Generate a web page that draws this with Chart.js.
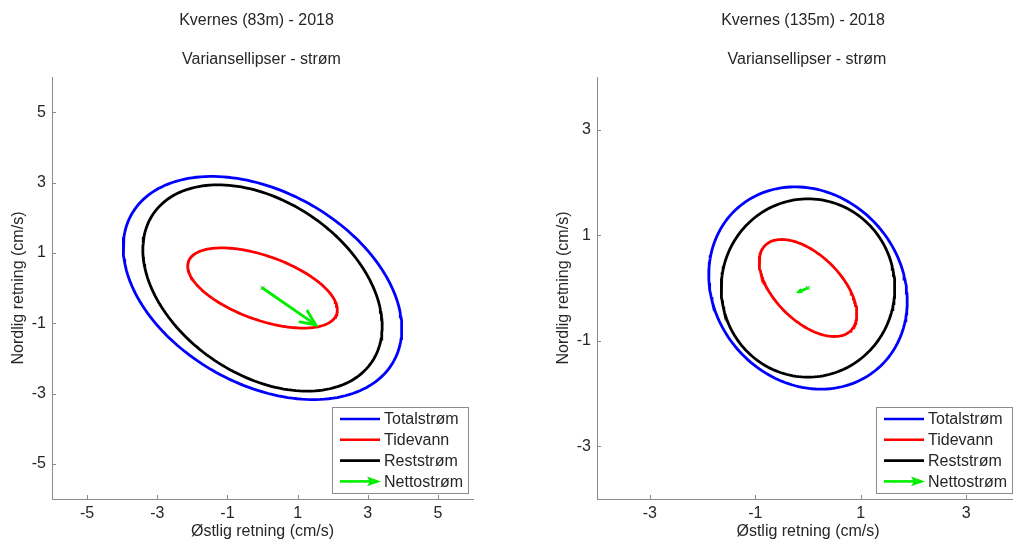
<!DOCTYPE html>
<html>
<head>
<meta charset="utf-8">
<script src="https://cdn.jsdelivr.net/npm/chart.js@4/dist/chart.umd.min.js"></script>
<style>
  html, body { margin: 0; padding: 0; background: #ffffff; overflow: hidden; }
  #wrap { position: relative; width: 1013px; height: 540px; overflow: hidden; }
  canvas { position: absolute; top: 0; }
  #c83 { left: 0; }
  #c135 { left: 545px; }
</style>
</head>
<body>
<div id="wrap">
  <canvas id="c83" width="480" height="540" style="width:480px;height:540px"></canvas>
  <canvas id="c135" width="480" height="540" style="width:480px;height:540px"></canvas>
</div>
<script>
// Series names (ellipses) and the net-current arrow
const seriesNames = ['Totalstrøm', 'Tidevann', 'Reststrøm'];
const nettoName = 'Nettostrøm';

const subtitleText = 'Variansellipser - strøm';
const xTitleText = 'Østlig retning (cm/s)';
const yTitleText = 'Nordlig retning (cm/s)';

// Kvernes, 83 m: ellipse semi-axes (cm/s) and orientation (deg from east)
const title83 = 'Kvernes (83m) - 2018';
const semiMajor83 = [4.28, 2.24, 3.76];
const semiMinor83 = [2.74, 0.91, 2.47];
const angle83 = [-29.1, -19.6, -33.9];
const netto83 = [1.52, -1.05];
const ticks83 = [-5, -3, -1, 1, 3, 5];
const range83 = [-6, 6];

// Kvernes, 135 m
const title135 = 'Kvernes (135m) - 2018';
const semiMajor135 = [2.02, 1.145, 1.69];
const semiMinor135 = [1.77, 0.625, 1.645];
const angle135 = [-49.2, -44.7, 90];
const netto135 = [-0.17, -0.07];
const ticks135 = [-3, -1, 1, 3];
const range135 = [-4, 4];

// Styling
const seriesColors = ['#0000ff', '#ff0000', '#000000'];
const nettoColor = '#00ee00';
const axisColor = '#8a8a8a';
const textColor = '#262626';
const FONT = "'Liberation Sans', Arial, sans-serif";
const FONT_SIZE = 16;

// Outline of an ellipse centred at the origin, from its semi-axes and orientation
function ellipseOutline(a, b, deg) {
  const phi = deg * Math.PI / 180;
  const pts = [];
  for (let k = 0; k <= 180; k++) {
    const t = k * 2 * Math.PI / 180;
    const ex = a * Math.cos(t), ey = b * Math.sin(t);
    pts.push({ x: ex * Math.cos(phi) - ey * Math.sin(phi),
               y: ex * Math.sin(phi) + ey * Math.cos(phi) });
  }
  return pts;
}

// Two-line heading above the plot
const headingPlugin = {
  id: 'heading',
  afterDraw(chart, args, opts) {
    const { ctx, chartArea } = chart;
    const cx = (chartArea.left + chartArea.right) / 2;
    ctx.save();
    ctx.fillStyle = textColor;
    ctx.font = FONT_SIZE + 'px ' + FONT;
    ctx.textAlign = 'center';
    ctx.textBaseline = 'middle';
    ctx.fillText(opts.title, cx + opts.titleShift, 21);
    ctx.fillText(opts.subtitle, cx - 1, 60);
    ctx.restore();
  }
};

// Inward tick marks on the bottom and left axes
const innerTicksPlugin = {
  id: 'innerTicks',
  afterDraw(chart) {
    const { ctx, chartArea, scales } = chart;
    ctx.save();
    ctx.strokeStyle = axisColor;
    ctx.lineWidth = 1;
    ctx.beginPath();
    scales.x.ticks.forEach(t => {
      const px = Math.round(scales.x.getPixelForValue(t.value)) + 0.5;
      ctx.moveTo(px, chartArea.bottom);
      ctx.lineTo(px, chartArea.bottom - 4);
    });
    scales.y.ticks.forEach(t => {
      const py = Math.round(scales.y.getPixelForValue(t.value)) + 0.5;
      ctx.moveTo(chartArea.left, py);
      ctx.lineTo(chartArea.left + 4, py);
    });
    ctx.stroke();
    ctx.restore();
  }
};

// Arrow heads for the net-current vector, placed from the dataset's own points
const arrowPlugin = {
  id: 'arrowHead',
  afterDatasetsDraw(chart) {
    const { ctx } = chart;
    chart.data.datasets.forEach((ds, i) => {
      if (!ds.isArrow) return;
      const pts = chart.getDatasetMeta(i).data;
      const p0 = pts[0], p1 = pts[1];
      const dx = p1.x - p0.x, dy = p1.y - p0.y;
      const len = Math.hypot(dx, dy);
      const head = 0.25 * len;
      const ang = Math.atan2(dy, dx);
      const spread = 24 * Math.PI / 180;
      ctx.save();
      ctx.strokeStyle = ds.borderColor;
      ctx.lineWidth = ds.borderWidth;
      ctx.lineCap = 'round';
      ctx.beginPath();
      ctx.moveTo(p1.x - head * Math.cos(ang - spread), p1.y - head * Math.sin(ang - spread));
      ctx.lineTo(p1.x, p1.y);
      ctx.lineTo(p1.x - head * Math.cos(ang + spread), p1.y - head * Math.sin(ang + spread));
      ctx.stroke();
      ctx.restore();
    });
  }
};

// Boxed legend in the lower-right corner of the plot
const boxLegendPlugin = {
  id: 'boxLegend',
  afterDraw(chart, args, opts) {
    const { ctx, chartArea } = chart;
    const items = chart.data.datasets.filter(d => d.label);
    const w = 136, h = 86;
    const left = chartArea.right - opts.rightGap - w;
    const top = chartArea.bottom - 6 - h;
    ctx.save();
    ctx.fillStyle = '#ffffff';
    ctx.fillRect(left, top, w, h);
    ctx.strokeStyle = axisColor;
    ctx.lineWidth = 1;
    ctx.strokeRect(Math.round(left) + 0.5, Math.round(top) + 0.5, w, h);
    items.forEach((d, i) => {
      const y = top + 12 + i * 20.8;
      ctx.strokeStyle = d.borderColor;
      ctx.fillStyle = d.borderColor;
      ctx.lineWidth = 2.6;
      ctx.beginPath();
      if (d.isArrow) {
        ctx.moveTo(left + 8, y);
        ctx.lineTo(left + 38, y);
        ctx.stroke();
        ctx.beginPath();
        ctx.moveTo(left + 49, y);
        ctx.lineTo(left + 35, y - 4.8);
        ctx.lineTo(left + 38, y);
        ctx.lineTo(left + 35, y + 4.8);
        ctx.closePath();
        ctx.fill();
      } else {
        ctx.moveTo(left + 8, y);
        ctx.lineTo(left + 48, y);
        ctx.stroke();
      }
      ctx.fillStyle = textColor;
      ctx.font = FONT_SIZE + 'px ' + FONT;
      ctx.textAlign = 'left';
      ctx.textBaseline = 'middle';
      ctx.fillText(d.label, left + 52, y + 1);
    });
    ctx.restore();
  }
};

function axisOptions(range, tickValues, titleText, isX) {
  const o = {
    type: 'linear',
    position: isX ? 'bottom' : 'left',
    min: range[0],
    max: range[1],
    afterBuildTicks: s => { s.ticks = tickValues.map(v => ({ value: v })); },
    grid: { display: false, drawTicks: false },
    border: { display: true, color: axisColor, width: 1 },
    ticks: {
      color: textColor,
      font: { family: FONT, size: FONT_SIZE },
      padding: isX ? 5 : 6,
      maxRotation: 0,
      autoSkip: false,
      callback: v => String(v)
    },
    title: {
      display: true,
      text: titleText,
      color: textColor,
      font: { family: FONT, size: FONT_SIZE },
      padding: isX ? { top: 0, bottom: -1 } : { top: 9, bottom: 0 }
    }
  };
  if (isX) o.afterFit = s => { s.height = 41; };
  else o.afterFit = s => { s.width = 52; };
  return o;
}

function buildChart(canvasId, cfg) {
  const datasets = seriesNames.map((name, i) => ({
    label: name,
    data: ellipseOutline(cfg.semiMajor[i], cfg.semiMinor[i], cfg.angle[i]),
    showLine: true,
    borderColor: seriesColors[i],
    backgroundColor: seriesColors[i],
    borderWidth: 2.8,
    pointRadius: 0,
    tension: 0,
    fill: false
  }));
  datasets.push({
    label: nettoName,
    isArrow: true,
    data: [{ x: 0, y: 0 }, { x: cfg.netto[0], y: cfg.netto[1] }],
    showLine: true,
    borderColor: nettoColor,
    backgroundColor: nettoColor,
    borderWidth: 2.8,
    borderCapStyle: 'round',
    pointRadius: 0
  });
  datasets.push({
    label: '',
    data: [{ x: 0, y: 0 }],
    showLine: false,
    pointStyle: 'crossRot',
    pointRadius: 3,
    borderColor: '#8a8a8a',
    borderWidth: 1
  });
  return new Chart(document.getElementById(canvasId), {
    type: 'scatter',
    data: { datasets },
    options: {
      responsive: false,
      animation: false,
      events: [],
      layout: { padding: { top: 77, left: 0, right: cfg.rightPad, bottom: 0 } },
      scales: {
        x: axisOptions(cfg.range, cfg.ticks, xTitleText, true),
        y: axisOptions(cfg.range, cfg.ticks, yTitleText, false)
      },
      plugins: {
        legend: { display: false },
        tooltip: { enabled: false },
        heading: { title: cfg.title, subtitle: subtitleText, titleShift: cfg.titleShift },
        boxLegend: { rightGap: cfg.legendGap }
      }
    },
    plugins: [innerTicksPlugin, arrowPlugin, boxLegendPlugin, headingPlugin]
  });
}

buildChart('c83', {
  title: title83, semiMajor: semiMajor83, semiMinor: semiMinor83, angle: angle83,
  netto: netto83, ticks: ticks83, range: range83,
  rightPad: 7, titleShift: -6, legendGap: 5
});
buildChart('c135', {
  title: title135, semiMajor: semiMajor135, semiMinor: semiMinor135, angle: angle135,
  netto: netto135, ticks: ticks135, range: range135,
  rightPad: 6, titleShift: -5, legendGap: 7
});
</script>
</body>
</html>
